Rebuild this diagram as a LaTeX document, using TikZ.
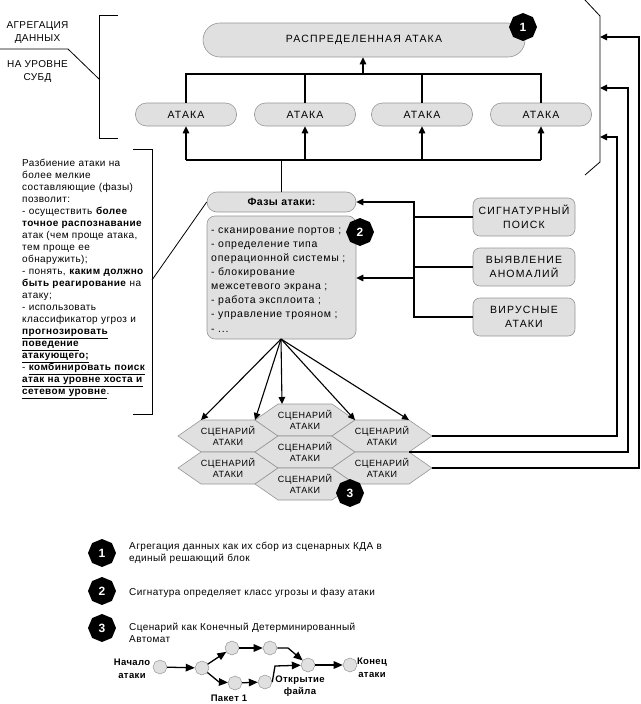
\documentclass[tikz,border=0pt]{standalone}
\usepackage{fontspec}
\setmainfont{Liberation Sans}[LetterSpace=4]
\newfontfamily\capsfam{Liberation Sans}[LetterSpace=11]
\newfontfamily\hexfam{Liberation Sans}[LetterSpace=6]
\newfontfamily\listfam{Liberation Sans}[LetterSpace=7]
\usetikzlibrary{arrows.meta,shapes.geometric,calc}
\definecolor{boxfill}{RGB}{224,224,224}
\definecolor{boxline}{RGB}{150,150,150}
\begin{document}
\begin{tikzpicture}[x=1pt,y=-1pt,
  every node/.style={inner sep=0pt, font=\fontsize{10.5}{12}\selectfont},
  conn/.style={line width=1.1pt, line join=miter},
  arr/.style={conn, -{Triangle[length=7pt,width=6.5pt]}},
  aarr/.style={line width=1.3pt, -{Triangle[length=9pt,width=7.5pt]}},
  thin/.style={line width=0.8pt},
  pill/.style={draw=boxline, fill=boxfill, line width=0.6pt, rounded corners=#1},
  pill/.default=11pt,
  capsbox/.style={font=\capsfam\fontsize{10.5}{14}\selectfont},
  badge/.style={regular polygon, regular polygon sides=8, shape border rotate=22.5,
    fill=black, text=white, minimum size=28pt, font=\bfseries\fontsize{12}{12}\selectfont},
  state/.style={regular polygon, regular polygon sides=8, shape border rotate=22.5,
    fill=boxfill, draw=boxline, line width=0.5pt, minimum size=14pt},
  hextext/.style={align=center, font=\hexfam\fontsize{9}{10.5}\selectfont},
  auto label/.style={align=center, font=\bfseries\fontsize{9.5}{12.5}\selectfont},
  hexa/.pic={\path[draw=boxline, fill=boxfill, line width=0.6pt]
     (-50,0) -- (-27,-16) -- (27,-16) -- (50,0) -- (27,16) -- (-27,16) -- cycle;}
]
\useasboundingbox (0,0) rectangle (640,704);

% ---------- top part ----------
\node[pill=17pt, minimum width=322pt, minimum height=34pt, capsbox] (dist) at (364,40) {РАСПРЕДЕЛЕННАЯ АТАКА};
\node[badge] (b1) at (523,27) {1};

\node[pill, minimum width=101pt, minimum height=23pt, capsbox] (a1) at (186,114.5) {АТАКА};
\node[pill, minimum width=101pt, minimum height=23pt, capsbox] (a2) at (305,114.5) {АТАКА};
\node[pill, minimum width=101pt, minimum height=23pt, capsbox] (a3) at (422,114.5) {АТАКА};
\node[pill, minimum width=101pt, minimum height=23pt, capsbox] (a4) at (541,114.5) {АТАКА};

\coordinate (u1) at (186,74); \coordinate (u4) at (541,74); \coordinate (um) at (363,74);
\draw[conn] (a1.north) -- (u1) -- (u4) -- (a4.north);
\draw[conn] (a2.north) -- (a2.north |- u1);
\draw[conn] (a3.north) -- (a3.north |- u1);
\draw[arr] (um) -- (um |- dist.south);

\coordinate (d1) at (186,160); \coordinate (d4) at (541,160);
\draw[conn] (d1) -- (d4);
\draw[arr] (d1) -- (a1.south);
\draw[arr] (a2.south |- d1) -- (a2.south);
\draw[arr] (a3.south |- d1) -- (a3.south);
\draw[arr] (d4) -- (a4.south);

% left bracket with labels
\node[align=center, font=\fontsize{10}{13}\selectfont] (lab1) at (37.5,32.5) {АГРЕГАЦИЯ\\ДАННЫХ};
\node[align=center, font=\fontsize{10}{13}\selectfont] (lab2) at (37.5,71.5) {НА УРОВНЕ\\СУБД};
\draw[thin] (118,15) -- (99,15) -- (99,138) -- (118,138);
\coordinate (lbk) at (99,79);
\draw[thin] (0,49) -- (68,49) -- (lbk);

% right bracket
\coordinate (rb1) at (600,37); \coordinate (rb2) at (600,88); \coordinate (rb3) at (600,137);
\draw[thin] (585,0) -- (600,16) -- (600,162) -- (585,175);

% ---------- phases ----------
\node[pill=10pt, minimum width=149pt, minimum height=20pt, font=\bfseries\fontsize{10.5}{12}\selectfont] (ph) at (281.5,202) {Фазы атаки:};
\draw[conn] (ph.north) -- (ph.north |- d1);
\node[pill=8pt, minimum width=149pt, minimum height=123pt] (pl) at (281.5,277.5) {};
\node[anchor=base west, text width=145pt, align=left, font=\listfam\fontsize{10.5}{14.15}\selectfont] (plt) at (211,233)
 {- сканирование портов ;\\- определение типа\\операционной системы ;\\- блокирование\\межсетевого экрана ;\\- работа эксплоита ;\\- управление трояном ;\\- ...};
\node[badge] (b2) at (360,232) {2};

\node[pill=7pt, minimum width=102pt, minimum height=38pt, align=center, capsbox] (s1) at (524,217) {СИГНАТУРНЫЙ\\ПОИСК};
\node[pill=7pt, minimum width=102pt, minimum height=38pt, align=center, capsbox] (s2) at (524,267) {ВЫЯВЛЕНИЕ\\АНОМАЛИЙ};
\node[pill=7pt, minimum width=102pt, minimum height=38pt, align=center, capsbox] (s3) at (524,317) {ВИРУСНЫЕ\\АТАКИ};

\coordinate (v1) at (414,202); \coordinate (v3) at (414,317);
\draw[arr] (s3.west) -- (v3) -- (v1) -- (ph.east);
\draw[conn] (s1.west) -- (s1.west -| v1);
\draw[conn] (s2.west) -- (s2.west -| v1);
\draw[arr] (414,278) -- (pl.east |- 0,278);

% left explanatory text
\node[anchor=base west, text width=135pt, align=left, font=\fontsize{10}{12.05}\selectfont] (lt) at (22,166)
 {Разбиение атаки на\\более мелкие\\составляющие (фазы)\\позволит:\\- осуществить \textbf{более}\\\textbf{точное распознавание}\\атак (чем проще атака,\\тем проще ее\\обнаружить);\\- понять, \textbf{каким должно}\\\textbf{быть реагирование} на\\атаку;\\- использовать\\классификатор угроз и\\\underline{\textbf{прогнозировать}}\\\underline{\textbf{поведение}}\\\underline{\textbf{атакующего;}}\\- \underline{\textbf{комбинировать поиск}}\\\underline{\textbf{атак на уровне хоста и}}\\\underline{\textbf{сетевом уровне}}.};
\draw[thin] (133,149) -- (152,149) -- (152,414) -- (133,414);
\coordinate (ltk) at (152,280);
\draw[thin] (ltk) -- (ph.west);

% ---------- scenarios ----------
\pic at (228,436) {hexa}; \pic at (228,468) {hexa};
\pic at (305,420) {hexa}; \pic at (305,452) {hexa}; \pic at (305,484) {hexa};
\pic at (382,436) {hexa}; \pic at (382,468) {hexa};
\node[hextext] (h1) at (228,436) {СЦЕНАРИЙ\\АТАКИ};
\node[hextext] (h2) at (228,468) {СЦЕНАРИЙ\\АТАКИ};
\node[hextext] (h3) at (305,420) {СЦЕНАРИЙ\\АТАКИ};
\node[hextext] (h4) at (305,452) {СЦЕНАРИЙ\\АТАКИ};
\node[hextext] (h5) at (305,484) {СЦЕНАРИЙ\\АТАКИ};
\node[hextext] (h6) at (382,436) {СЦЕНАРИЙ\\АТАКИ};
\node[hextext] (h7) at (382,468) {СЦЕНАРИЙ\\АТАКИ};
\node[badge] (b3) at (350,493) {3};

\coordinate (src) at (281,339);
\draw[arr] (src) -- (201,420);
\draw[arr] (src) -- (255,420);
\draw[arr] (src) -- (282,404);
\draw[arr] (src) -- (355,420);
\draw[arr] (src) -- (409,420);

\draw[arr] (432,436) -- (617,436) -- (617,137) -- (rb3);
\draw[arr] (409,452) -- (628,452) -- (628,88) -- (rb2);
\draw[arr] (432,468) -- (639,468) -- (639,37) -- (rb1);

% ---------- legend ----------
\node[badge] (l1) at (102,553) {1};
\node[badge] (l2) at (102,591) {2};
\node[badge] (l3) at (102,628) {3};
\node[anchor=base west, text width=300pt, align=left, font=\fontsize{10}{12}\selectfont] (lt1) at (129,549) {Агрегация данных как их сбор из сценарных КДА в\\единый решающий блок};
\node[anchor=base west, font=\fontsize{10}{12}\selectfont] (lt2) at (129,595) {Сигнатура определяет класс угрозы и фазу атаки};
\node[anchor=base west, text width=300pt, align=left, font=\fontsize{10}{12}\selectfont] (lt3) at (129,630) {Сценарий как Конечный Детерминированный\\Автомат};

% automaton
\node[state] (n1) at (160,667) {};
\node[state] (n2) at (202,668) {};
\node[state] (n3) at (232,648) {};
\node[state] (n4) at (270,648) {};
\node[state] (n5) at (235,683) {};
\node[state] (n6) at (265,682) {};
\node[state] (n7) at (308,665) {};
\node[state] (n8) at (350,665) {};
\draw[aarr] (n1) -- (n2);
\draw[aarr] (n2) -- (n3);
\draw[aarr] (n3) -- (n4);
\draw[aarr] (n4.east) -- (288,648) -- (n7);
\draw[aarr] (n2) -- (219,682) -- (n5);
\draw[aarr] (n5) -- (n6);
\draw[aarr] (n6.east) -- (275,666) -- (n7);
\draw[aarr] (n7) -- (n8);
\node[auto label] (al1) at (132,669) {Начало\\атаки};
\node[auto label] (al2) at (229,698) {Пакет 1};
\node[auto label] (al3) at (300,686) {Открытие\\файла};
\node[auto label] (al4) at (372,668) {Конец\\атаки};
\end{tikzpicture}
\end{document}
